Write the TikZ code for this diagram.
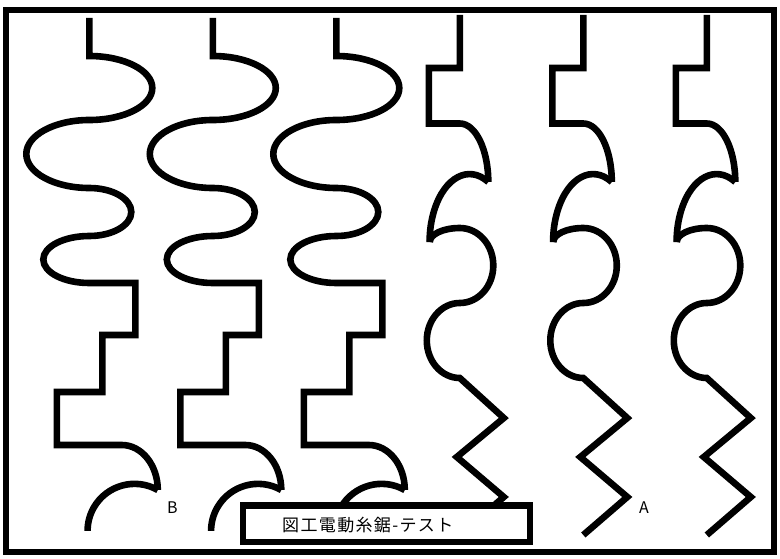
\documentclass[tikz,border=0pt]{standalone}
\usepackage{fontspec}
\newfontfamily\jpfont{Noto Sans CJK JP}
\newfontfamily\jpfontsp[LetterSpace=8]{Noto Sans CJK JP}
\begin{document}
\begin{tikzpicture}[x=1pt,y=1pt,yscale=-1,
  blade/.style={line width=6.6pt, line join=miter, black},
  frameline/.style={line width=6.6pt, black},
  lbl/.style={font=\jpfont\fontsize{16}{16}\selectfont, inner sep=0pt, anchor=base}]
\useasboundingbox (0,0) rectangle (780,559);
\fill[white] (0,0) rectangle (780,559);
% blades of kind B
\foreach \xo in {89.3,212.8,336.3}{
  \begin{scope}[shift={(\xo,0)}]
    \draw[blade] (0,18) -- (0,56)
      arc[start angle=-90,end angle=90,x radius=63,y radius=32]
      arc[start angle=270,end angle=90,x radius=63,y radius=34]
      arc[start angle=-90,end angle=90,x radius=42,y radius=24]
      arc[start angle=270,end angle=90,x radius=46,y radius=23.5]
      -- (46,283) -- (46,335) -- (13,335) -- (13,392) -- (-32.5,392)
      -- (-32.5,445) -- (32.5,445)
      arc[start angle=270,end angle=360,x radius=36,y radius=45];
    \draw[blade] (68.5,490) arc[start angle=-60.4,end angle=-180,radius=47];
  \end{scope}
}
% blades of kind A
\foreach \xo in {459.8,583.3,706.8}{
  \begin{scope}[shift={(\xo,0)}]
    \draw[blade] (0,15) -- (0,68) -- (-31,68) -- (-31,123.5) -- (0,123.5)
      arc[start angle=270,end angle=360,x radius=28.5,y radius=58.5];
    \draw[blade] (28.5,182) arc[start angle=-62.1,end angle=-180,x radius=40,y radius=68];
    \draw[blade] (-30,242)
      arc[start angle=180,end angle=270,x radius=30,y radius=14]
      arc[start angle=270,end angle=450,x radius=33.5,y radius=37.5]
      arc[start angle=270,end angle=90,x radius=33,y radius=37.5]
      -- (44,418) -- (-3,457) -- (44,497) -- (0,535);
  \end{scope}
}
\node[lbl] (labB) at (172.5,513.5) {B};
\node[lbl] (labA) at (644,513.5) {A};
\draw[frameline, fill=white] (243,505.5) rectangle (530,542);
\node[anchor=base west, inner sep=0pt, font=\jpfontsp\fontsize{17}{17}\selectfont] (title) at (282,531) {図工電動糸鋸-テスト};
\draw[frameline] (6,10) rectangle (774,552);
\end{tikzpicture}
\end{document}
